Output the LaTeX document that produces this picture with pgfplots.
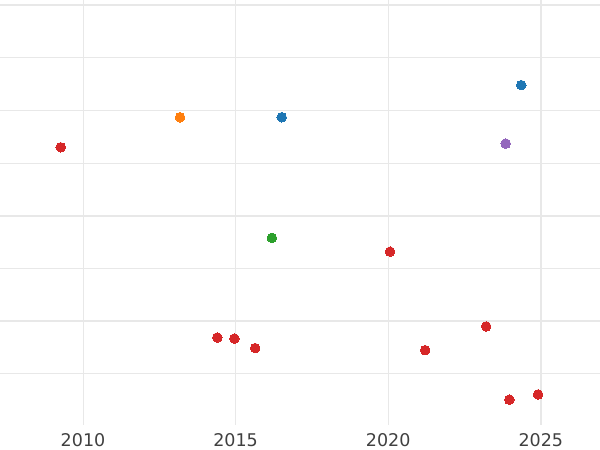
\documentclass[border=0pt]{standalone}
\usepackage{pgfplots}
\pgfplotsset{compat=1.18}
\usepackage{fontspec}
\setmainfont{DejaVu Sans}
\definecolor{tabred}{HTML}{D62728}
\definecolor{taborange}{HTML}{FF7F0E}
\definecolor{tabblue}{HTML}{1F77B4}
\definecolor{tabgreen}{HTML}{2CA02C}
\definecolor{tabpurple}{HTML}{9467BD}
\definecolor{gridgray}{HTML}{E8E8E8}
\definecolor{textgray}{HTML}{404040}
\begin{document}
\begin{tikzpicture}[x=1pt,y=1pt]
\path[use as bounding box] (0,-25) rectangle (600,425);
\begin{axis}[
  at={(0,0)}, anchor=south west,
  scale only axis, width=600pt, height=425pt,
  xmin=2007.28, xmax=2026.94, ymin=0.03, ymax=8.095,
  axis line style={draw=none},
  major tick length=0pt,
  xtick={2010,2015,2020,2025},
  ytick={1,2,3,4,5,6,7,8}, yticklabels={},
  grid=major,
  major grid style={draw=gridgray, line width=1.0pt},
  extra x ticks={2015,2025}, extra x tick labels={},
  extra x tick style={major grid style={draw=gridgray, line width=1.6pt}},
  extra y ticks={2,3,4,8}, extra y tick labels={},
  extra y tick style={major grid style={draw=gridgray, line width=1.6pt}},
  /pgf/number format/1000 sep={},
  /pgf/number format/assume math mode=true,
  xticklabel style={font=\fontsize{17.5}{20}\selectfont, text=textgray, anchor=base, yshift=-21.5pt},
  mark size=4.8pt,
]
\addplot[only marks, mark=*, mark options={draw=tabred, fill=tabred, line width=0pt}] coordinates {
(2009.27,5.30) (2020.06,3.32) (2014.40,1.69) (2014.96,1.67) (2015.64,1.49)
(2021.21,1.45) (2023.21,1.90) (2023.97,0.51) (2024.91,0.61)};
\addplot[only marks, mark=*, mark options={draw=taborange, fill=taborange, line width=0pt}] coordinates {(2013.18,5.87)};
\addplot[only marks, mark=*, mark options={draw=tabblue, fill=tabblue, line width=0pt}] coordinates {(2016.51,5.87) (2024.36,6.48)};
\addplot[only marks, mark=*, mark options={draw=tabpurple, fill=tabpurple, line width=0pt}] coordinates {(2023.85,5.37)};
\addplot[only marks, mark=*, mark options={draw=tabgreen, fill=tabgreen, line width=0pt}] coordinates {(2016.19,3.58)};
\end{axis}
\end{tikzpicture}
\end{document}
